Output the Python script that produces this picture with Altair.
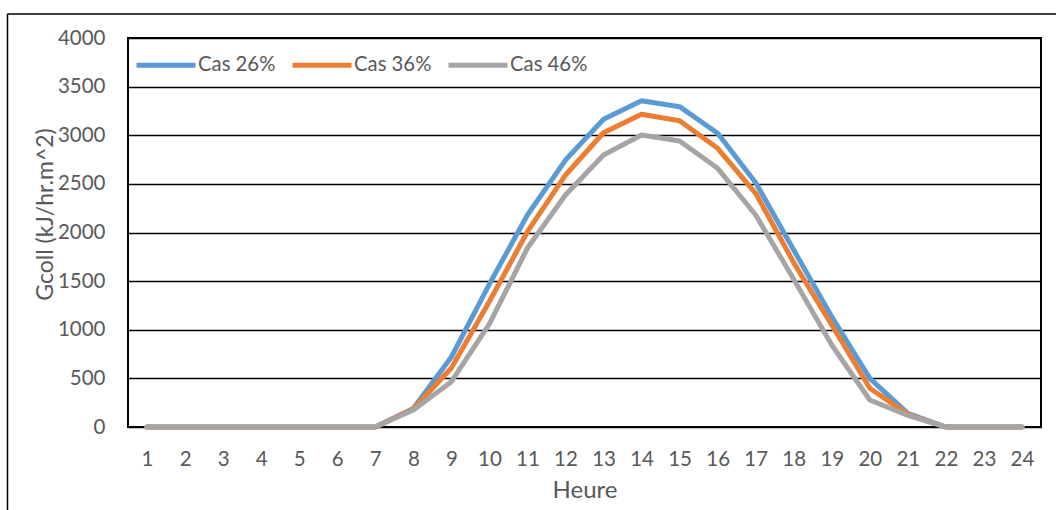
import altair as alt
import pandas as pd

hours = list(range(1, 25))
series_names = ["Cas 26%", "Cas 36%", "Cas 46%"]
cas26 = [0, 0, 0, 0, 0, 0, 0, 190, 720, 1470, 2180, 2745, 3164, 3355, 3294, 3020, 2512, 1820, 1134, 500, 140, 0, 0, 0]
cas36 = [0, 0, 0, 0, 0, 0, 0, 185, 607, 1290, 2008, 2591, 3026, 3215, 3150, 2866, 2403, 1690, 1049, 398, 130, 0, 0, 0]
cas46 = [0, 0, 0, 0, 0, 0, 0, 175, 466, 1060, 1840, 2386, 2797, 3003, 2941, 2660, 2180, 1520, 843, 278, 120, 0, 0, 0]
colors = ["#5B9BD5", "#ED7D31", "#A5A5A5"]
y_ticks = list(range(0, 4001, 500))

rows = []
for name, vals in zip(series_names, [cas26, cas36, cas46]):
    for h, v in zip(hours, vals):
        rows.append({"Heure": h, "Cas": name, "G": v})
df = pd.DataFrame(rows)

FONT = "Lato"
TXT = "#595959"

lines = alt.Chart(df).mark_line(strokeWidth=5, strokeCap="round", strokeJoin="round").encode(
    x=alt.X("Heure:O", scale=alt.Scale(type="point", padding=0.5),
            axis=alt.Axis(title="Heure", labelAngle=0, domain=False, ticks=False, tickSize=0,
                          labelPadding=22, labelFont=FONT, labelFontSize=20.5, labelColor=TXT,
                          titleFont=FONT, titleFontSize=24, titleColor=TXT, titleFontWeight="normal",
                          titleBaseline="alphabetic", titleY=70, grid=False)),
    y=alt.Y("G:Q", scale=alt.Scale(domain=[0, 4000], nice=False),
            axis=alt.Axis(title="Gcoll (kJ/hr.m^2)", values=y_ticks, format="d", domain=False, ticks=False,
                          tickSize=0, labelPadding=23, labelFont=FONT, labelFontSize=20.5, labelColor=TXT,
                          titleFont=FONT, titleFontSize=23, titleColor=TXT, titleFontWeight="normal",
                          titleBaseline="alphabetic", titleX=-76, titleY=176, titleAngle=-90,
                          grid=True, gridColor="black", gridWidth=1.5, gridOpacity=1)),
    color=alt.Color("Cas:N", scale=alt.Scale(domain=series_names, range=colors),
                    legend=alt.Legend(title=None, orient="none", legendX=6, legendY=-5,
                                      direction="horizontal", symbolType="stroke", symbolSize=3480,
                                      symbolStrokeWidth=5, labelFont=FONT, labelFontSize=20.3,
                                      labelColor=TXT, columnPadding=6, labelOffset=0, padding=0)),
)

frame_df = pd.DataFrame({"a": [0]})
frame_left = alt.Chart(frame_df).mark_rule(color="black", strokeWidth=1.5).encode(
    x=alt.value(-120.5), y=alt.value(-24), y2=alt.value(600))
frame_top = alt.Chart(frame_df).mark_rule(color="black", strokeWidth=1.5).encode(
    x=alt.value(-120.5), x2=alt.value(1000), y=alt.value(-24))

chart = alt.layer(frame_left, frame_top, lines).properties(
    width=913, height=389,
    autosize=alt.AutoSizeParams(type="none"),
    padding={"left": 128, "top": 38, "right": 15, "bottom": 83},
    background="white",
).configure_view(stroke="black", strokeWidth=2)

chart.save("out.html", embed_options={"renderer": "svg", "actions": False})
